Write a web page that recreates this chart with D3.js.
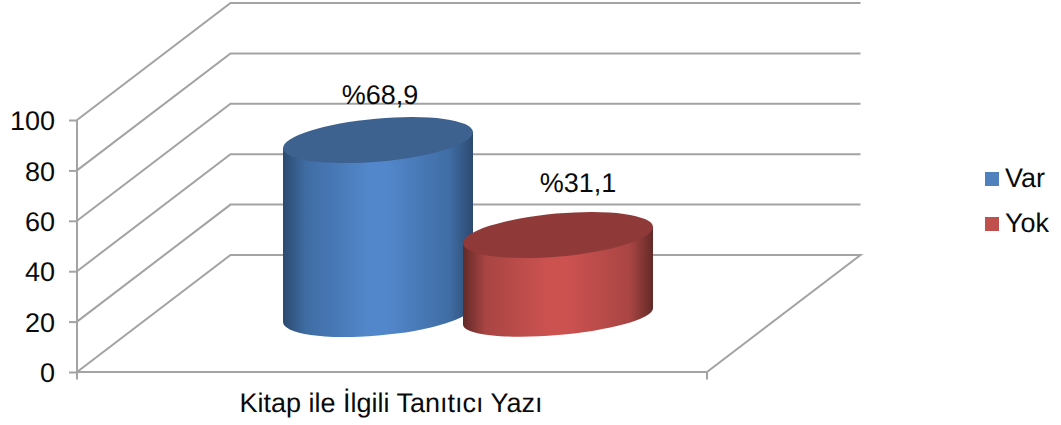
<!DOCTYPE html>
<html><head><meta charset="utf-8">
<script src="https://cdn.jsdelivr.net/npm/d3@7"></script>
<style>html,body{margin:0;padding:0;background:#fff}svg{display:block}
text{font-family:"Liberation Sans",Arial,sans-serif;fill:#0a0a0a;text-rendering:geometricPrecision}</style></head>
<body><svg id="c" width="1061" height="425"></svg>
<script>
const categories = ["Kitap ile İlgili Tanıtıcı Yazı"];
const seriesNames = ["Var", "Yok"];
const seriesValues = [68.9, 31.1];
const valueLabels = ["%68,9", "%31,1"];
const yTicks = [0, 20, 40, 60, 80, 100];
const seriesColors = [
  {edge:"#2c4a70", mid:"#5287cb", side:"#3f6ca3", top:"#3d628f", key:"#4f81bd"},
  {edge:"#622a28", mid:"#cc5250", side:"#a84543", top:"#8f3a38", key:"#c0504d"}
];

const svg = d3.select("#c");
const GRID = "#a3a3a3", FS = 27;
const stretch = sel => sel.attr("font-size",FS).attr("font-family",null);
const y = d3.scaleLinear().domain([0,100]).range([372,120]);
const x = d3.scaleBand().domain(categories).range([77,707]);
const depth = {dx:153.5, dy:-117};

// walls and floor
const g = svg.append("g").attr("fill","none").attr("stroke",GRID).attr("stroke-width",2);
const line = d3.line();
yTicks.slice(1).forEach(t=>{
  g.append("path").attr("d",line([[x.range()[0],y(t)],[x.range()[0]+depth.dx,y(t)+depth.dy],[x.range()[1]+depth.dx,y(t)+depth.dy]]));
});
g.append("path").attr("d",line([[x.range()[0],y(0)],[x.range()[0]+depth.dx,y(0)+depth.dy],[x.range()[1]+depth.dx,y(0)+depth.dy],[x.range()[1],y(0)]]));

// axes
const axL = svg.append("g").attr("transform","translate(77,0)").call(d3.axisLeft(y).tickValues(yTicks).tickSize(8).tickPadding(14));
axL.select(".domain").attr("stroke",GRID).attr("stroke-width",2).attr("d",`M0,${y(100)}V${y(0)+7.5}`);
axL.selectAll("line").attr("stroke",GRID).attr("stroke-width",2);
axL.selectAll("text").attr("dy","0.36em").call(stretch);
const axB = svg.append("g").attr("transform",`translate(0,${y(0)})`).call(d3.axisBottom(x).tickSize(0));
axB.select(".domain").attr("stroke",GRID).attr("stroke-width",2).attr("d",`M77,0H707M707,0V7.5`);
axB.selectAll("text").attr("y",40).attr("dy",0).attr("x",-1).call(stretch);

// cylinders
const cylHeight = d3.scaleLinear().domain([0,100]).range([5.4,250]);
const cx = d3.scaleOrdinal().domain(seriesNames).range([378,558]);
const baseY = d3.scaleOrdinal().domain(seriesNames).range([314,316.5]);
const labelDx = d3.scaleOrdinal().domain(seriesNames).range([2,20]);
const labelDy = d3.scaleOrdinal().domain(seriesNames).range([36,43]);
const baseB = d3.scaleOrdinal().domain(seriesNames).range([21.5,18.5]);
const HW=95, TILT=8, A=95.35, B=21.5, ROT=-5.07;
const defs = svg.append("defs");
seriesNames.forEach((n,i)=>{
  const c=seriesColors[i];
  const lg=defs.append("linearGradient").attr("id","g"+i).attr("x1","0").attr("x2","1").attr("y1","0").attr("y2","0");
  [[0,c.edge],[0.12,c.side],[0.45,c.mid],[0.55,c.mid],[0.88,c.side],[1,c.edge]].forEach(s=>lg.append("stop").attr("offset",s[0]).attr("stop-color",s[1]));
  const X=cx(n), yb=baseY(n), yt=yb-cylHeight(seriesValues[i]);
  svg.append("path").attr("fill",`url(#g${i})`)
    .attr("d",`M${X-HW},${yt+TILT}L${X-HW},${yb+TILT}A${A},${baseB(n)} ${ROT} 0 0 ${X+HW},${yb-TILT}L${X+HW},${yt-TILT}Z`);
  svg.append("ellipse").attr("fill",c.top).attr("rx",A).attr("ry",B)
    .attr("transform",`translate(${X},${yt}) rotate(${ROT})`);
  svg.append("text").attr("x",X+labelDx(n)).attr("y",yt-labelDy(n)).attr("text-anchor","middle").text(valueLabels[i]).call(stretch);
});

// legend
const ly = d3.scaleOrdinal().domain(seriesNames).range([179,224]);
seriesNames.forEach((n,i)=>{
  svg.append("rect").attr("x",985).attr("y",ly(n)-7).attr("width",14).attr("height",14).attr("fill",seriesColors[i].key);
  svg.append("text").attr("x",1005).attr("y",ly(n)+8).text(n).call(stretch);
});
</script></body></html>
